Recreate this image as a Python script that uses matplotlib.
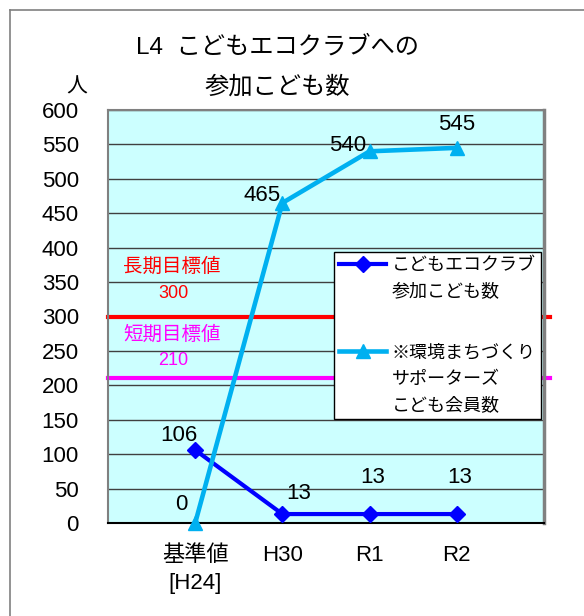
import numpy as np
import matplotlib.pyplot as plt
from matplotlib.lines import Line2D

plt.rcParams['font.family'] = ['Liberation Sans', 'Noto Sans CJK JP', 'DejaVu Sans']

# %% data
categories = ['基準値\n[H24]', 'H30', 'R1', 'R2']
eco_club = [106, 13, 13, 13]
supporters = [0, 465, 540, 545]
long_target = 300
short_target = 210

eco_label = ['こどもエコクラブ', '参加こども数']
sup_label = ['※環境まちづくり', 'サポーターズ', 'こども会員数']

# label offsets in pixels (dx, dy up)
eco_off = [(-16, 15), (16, 21), (3, 37), (3, 37)]
sup_off = [(-14, 18), (-20, 7), (-22, 6), (0, 23)]

blue = '#0000FF'
cyan = '#00B0F0'
red = '#FF0000'
pink = '#FF00FF'

# %% plot
fig = plt.figure(figsize=(5.84, 6.16), dpi=100)
ax = fig.add_axes([108/584, 1-523/616, 436/584, 413/616])
ax.set_facecolor('#CCFFFF')

x = np.arange(1, len(categories)+1)
ax.set_xlim(0, 5)
ax.set_ylim(0, 600)
ax.set_yticks(np.arange(0, 601, 50))
ax.yaxis.grid(True, color='#404040', lw=1)
ax.set_axisbelow(True)
ax.tick_params(axis='y', length=0, pad=21, labelsize=16)
ax.set_xticks(x)
ax.set_xticklabels(categories, fontsize=16, linespacing=1.4)
ax.tick_params(axis='x', length=0, pad=16)

for s in ['left', 'top', 'right']:
    ax.spines[s].set_color('#808080')
    ax.spines[s].set_linewidth(1.5)
ax.spines['right'].set_linewidth(2.5)
ax.spines['bottom'].set_color('black')
ax.spines['bottom'].set_linewidth(1.5)

# target lines
ax.axhline(long_target, xmin=0, xmax=1.014, color=red, lw=3, clip_on=False, zorder=2)
ax.axhline(short_target, xmin=0, xmax=1.014, color=pink, lw=3, clip_on=False, zorder=2)
ax.text(0.73, 372, '長期目標値', color=red, fontsize=14, ha='center', va='center')
ax.text(0.75, 334, str(long_target), color=red, fontsize=13, ha='center', va='center')
ax.text(0.73, 273, '短期目標値', color=pink, fontsize=14, ha='center', va='center')
ax.text(0.75, 236, str(short_target), color=pink, fontsize=13, ha='center', va='center')

l1, = ax.plot(x, eco_club, color=blue, lw=3, marker='D', markersize=8, zorder=3, clip_on=False)
l2, = ax.plot(x, supporters, color=cyan, lw=3.3, marker='^', markersize=10, zorder=4, clip_on=False)

for xi, v, (dx, dy) in zip(x, eco_club, eco_off):
    ax.annotate(str(v), (xi, v), xytext=(dx*0.72, dy*0.72), textcoords='offset points',
                ha='center', va='center', fontsize=16)
for xi, v, (dx, dy) in zip(x, supporters, sup_off):
    ax.annotate(str(v), (xi, v), xytext=(dx*0.72, dy*0.72), textcoords='offset points',
                ha='center', va='center', fontsize=16)

blank = Line2D([], [], color='none')
handles = [l1, blank, blank, l2, blank, blank]
labels = eco_label + [' '] + sup_label
leg = ax.legend(handles, labels, loc='upper right', bbox_to_anchor=(0.993, 0.656),
                borderaxespad=0, fontsize=13, handlelength=2.6, handletextpad=0.3,
                labelspacing=0.5, fancybox=False, framealpha=1, edgecolor='black',
                borderpad=0.3)
leg.get_frame().set_linewidth(1)
leg.get_texts()[2].set_fontsize(20)
leg.set_zorder(6)

# title and unit
fig.text(277/584, 1-47/616, 'L4  こどもエコクラブへの', fontsize=17.5, ha='center', va='center')
fig.text(277/584, 1-87/616, '参加こども数', fontsize=17.5, ha='center', va='center')
fig.text(77/584, 1-87/616, '人', fontsize=15, ha='center', va='center')

# outer frame
fig.add_artist(Line2D([10/584, 1], [1-10/616, 1-10/616], color='#808080', lw=1.2))
fig.add_artist(Line2D([10/584, 10/584], [0, 1-10/616], color='#808080', lw=1.2))

fig.savefig('out.png', dpi=100)
